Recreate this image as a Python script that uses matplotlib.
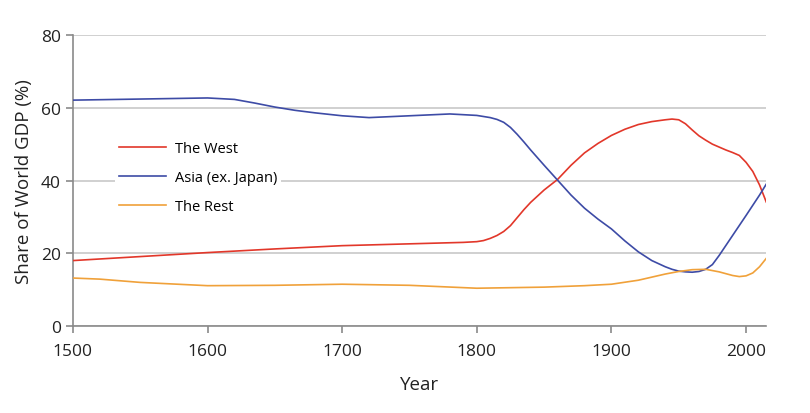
import matplotlib
matplotlib.use("Agg")
import matplotlib.pyplot as plt

plt.rcParams['font.family'] = ['Open Sans', 'DejaVu Sans']

# values (share of world GDP, %)
years_west = [1500, 1550, 1600, 1650, 1700, 1750, 1790, 1800, 1805, 1810, 1815, 1820, 1825,
              1830, 1835, 1840, 1850, 1860, 1870, 1880, 1890, 1900, 1910, 1920, 1930, 1940,
              1945, 1950, 1955, 1960, 1965, 1970, 1975, 1980, 1985, 1990, 1995, 2000,
              2005, 2010, 2015]
west = [18.0, 19.1, 20.2, 21.2, 22.1, 22.6, 23.0, 23.2, 23.5, 24.1, 24.9, 26.0, 27.6,
        29.8, 32.0, 34.0, 37.4, 40.3, 44.2, 47.6, 50.2, 52.4, 54.1, 55.4, 56.2, 56.7,
        56.9, 56.7, 55.6, 53.9, 52.3, 51.1, 50.0, 49.2, 48.4, 47.7, 46.9, 45.0,
        42.5, 38.8, 34.1]

years_asia = [1500, 1550, 1600, 1620, 1635, 1650, 1665, 1680, 1700, 1720, 1750, 1780, 1800,
              1810, 1815, 1820, 1825, 1830, 1835, 1840, 1850, 1860, 1870, 1880, 1890,
              1900, 1910, 1920, 1930, 1940, 1945, 1950, 1955, 1960, 1965, 1970, 1975,
              1980, 1990, 2000, 2010, 2015]
asia = [62.1, 62.4, 62.7, 62.3, 61.3, 60.2, 59.3, 58.6, 57.8, 57.3, 57.8, 58.3, 57.9,
        57.3, 56.8, 56.0, 54.6, 52.7, 50.6, 48.4, 44.2, 40.1, 36.0, 32.4, 29.4,
        26.7, 23.4, 20.4, 18.0, 16.3, 15.6, 15.1, 14.9, 14.8, 15.0, 15.6, 16.9,
        19.4, 24.9, 30.4, 36.0, 39.0]

years_rest = [1500, 1520, 1550, 1600, 1650, 1700, 1750, 1800, 1850, 1880, 1900, 1920,
              1940, 1950, 1960, 1970, 1980, 1990, 1995, 2000, 2005, 2010, 2015]
rest = [13.2, 12.9, 12.0, 11.1, 11.2, 11.5, 11.2, 10.4, 10.7, 11.1, 11.5, 12.6,
        14.3, 15.0, 15.5, 15.6, 14.9, 13.9, 13.6, 13.8, 14.6, 16.3, 18.6]

labels = ['The West', 'Asia (ex. Japan)', 'The Rest']
colors = ['#e2372a', '#3d4ba6', '#f0a13a']

fig = plt.figure(figsize=(8.1, 4.14), dpi=100)
ax = fig.add_axes([0.090, 0.210, 0.856, 0.703])

ax.plot(years_west, west, color=colors[0], lw=1.2, label=labels[0], zorder=3)
ax.plot(years_asia, asia, color=colors[1], lw=1.2, label=labels[1], zorder=3)
ax.plot(years_rest, rest, color=colors[2], lw=1.2, label=labels[2], zorder=3)

ax.set_xlim(1500, 2015)
ax.set_ylim(0, 80)
ax.set_xticks([1500, 1600, 1700, 1800, 1900, 2000])
ax.set_yticks([0, 20, 40, 60, 80])

ax.grid(axis='y', color='#c8c8c8', lw=1.2, zorder=0)
for s in ['top', 'right']:
	ax.spines[s].set_visible(False)
for s in ['left', 'bottom']:
	ax.spines[s].set_color('#8a8a8a')
	ax.spines[s].set_linewidth(1.2)
ax.tick_params(colors='#8a8a8a', labelcolor='#222222', labelsize=12.5, length=5, width=1.2)
ax.tick_params(axis='x', pad=7)

ax.set_xlabel('Year', fontsize=13.5, color='#222222', labelpad=12)
ax.set_ylabel('Share of World GDP (%)', fontsize=13.5, color='#222222', labelpad=6)

leg = ax.legend(loc='center left', bbox_to_anchor=(0.05, 0.51), fontsize=10.5,
                frameon=True, facecolor='white', edgecolor='none', framealpha=1,
                handlelength=3.2, handletextpad=0.6, labelspacing=0.95, borderpad=0.3)
leg.set_zorder(5)

fig.savefig('out.png', dpi=100)
